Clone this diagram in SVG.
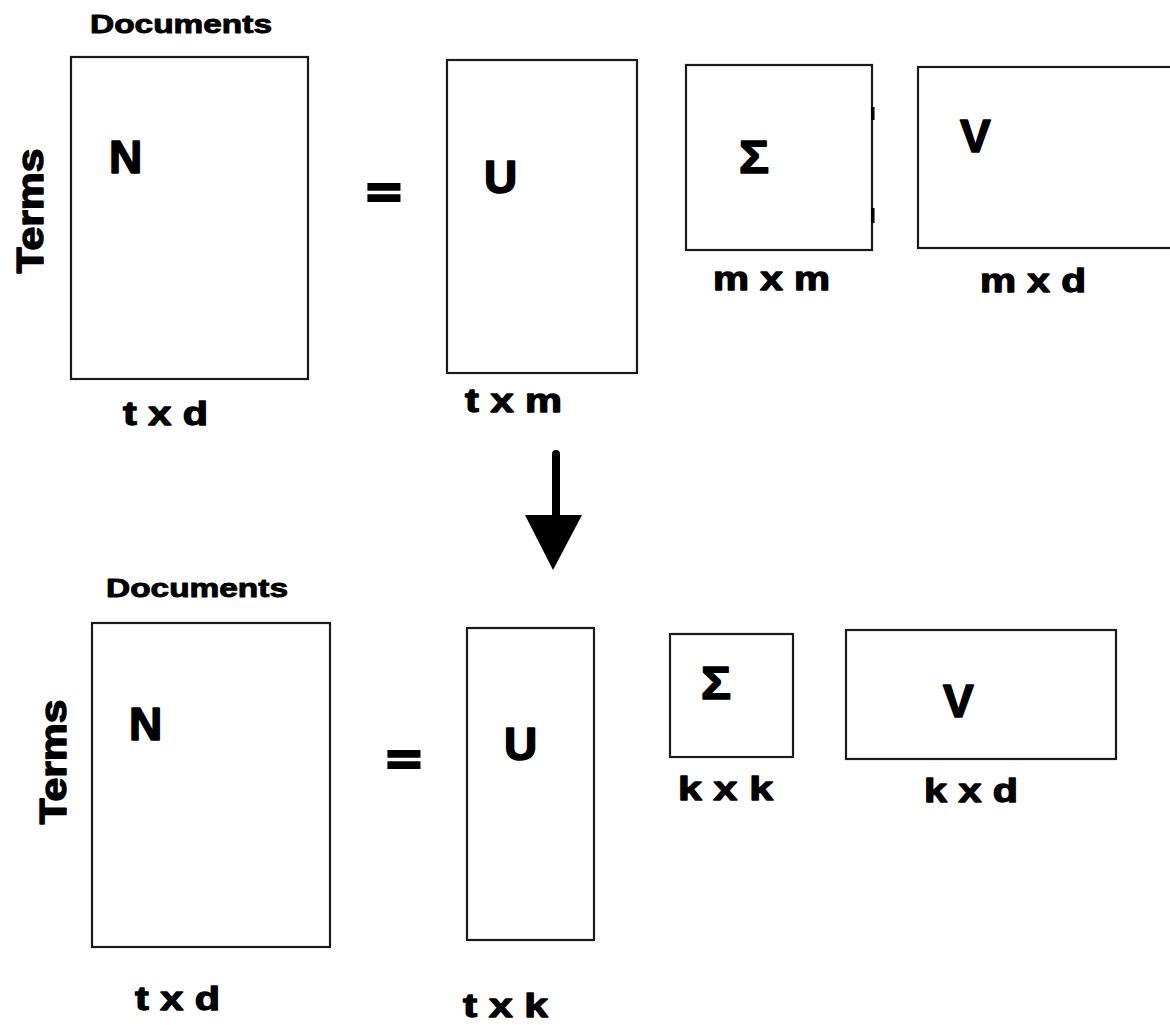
<svg xmlns="http://www.w3.org/2000/svg" width="1170" height="1025" viewBox="0 0 1170 1025">
<style>
.box{fill:#fff;stroke:#1a1a1a;stroke-width:2.2}
.t{font-family:"Liberation Sans",Arial,sans-serif;font-weight:bold;fill:#000;stroke:#000;stroke-linejoin:round}
.big{font-size:46px;stroke-width:1.6}
.lbl{font-size:34px;stroke-width:1.3}
.doc{font-size:25px;stroke-width:0.9}
.terms{font-size:36px;stroke-width:1.4}
.eq{font-family:"DejaVu Sans","Liberation Sans",sans-serif;font-weight:bold;font-size:50px;fill:#000;stroke:#000;stroke-width:1.8}
</style>
<rect width="1170" height="1025" fill="#fff"/>
<g id="top-N">
<text class="t doc" x="90" y="33" textLength="182" lengthAdjust="spacingAndGlyphs">Documents</text>
<text class="t terms" transform="translate(43,211) rotate(-90)" text-anchor="middle" textLength="125" lengthAdjust="spacingAndGlyphs">Terms</text>
<rect class="box" x="71" y="57" width="237" height="322"/>
<text class="t big" x="109" y="173">N</text>
<text class="t lbl" x="123" y="425" textLength="85" lengthAdjust="spacingAndGlyphs">t x d</text>
</g>
<g id="top-eq"><text class="eq" x="384" y="208" text-anchor="middle">=</text></g>
<g id="top-U">
<rect class="box" x="447" y="60" width="190" height="313"/>
<text class="t big" x="484" y="193">U</text>
<text class="t lbl" x="465" y="412" textLength="97" lengthAdjust="spacingAndGlyphs">t x m</text>
</g>
<g id="top-S">
<rect class="box" x="686" y="65" width="186" height="185"/>
<rect x="871" y="107" width="3.5" height="13" fill="#000"/>
<rect x="871" y="208" width="3.5" height="15" fill="#000"/>
<text class="t big" x="739" y="173" textLength="30" lengthAdjust="spacingAndGlyphs">Σ</text>
<text class="t lbl" x="713" y="290" textLength="117" lengthAdjust="spacingAndGlyphs">m x m</text>
</g>
<g id="top-V">
<rect class="box" x="918" y="67" width="270" height="181"/>
<text class="t big" x="960" y="152">V</text>
<text class="t lbl" x="980" y="292" textLength="106" lengthAdjust="spacingAndGlyphs">m x d</text>
</g>
<g id="connectors">
<line x1="556" y1="454" x2="556" y2="520" stroke="#000" stroke-width="8" stroke-linecap="round"/>
<polygon points="525,515 582,515 553,570" fill="#000"/>
</g>
<g id="bot-N">
<text class="t doc" x="106" y="597" textLength="182" lengthAdjust="spacingAndGlyphs">Documents</text>
<text class="t terms" transform="translate(66,762) rotate(-90)" text-anchor="middle" textLength="125" lengthAdjust="spacingAndGlyphs">Terms</text>
<rect class="box" x="92" y="623" width="238" height="324"/>
<text class="t big" x="129" y="740">N</text>
<text class="t lbl" x="135" y="1010" textLength="85" lengthAdjust="spacingAndGlyphs">t x d</text>
</g>
<g id="bot-eq"><text class="eq" x="404" y="775" text-anchor="middle">=</text></g>
<g id="bot-U">
<rect class="box" x="467" y="628" width="127" height="312"/>
<text class="t big" x="504" y="760">U</text>
<text class="t lbl" x="463" y="1017" textLength="85" lengthAdjust="spacingAndGlyphs">t x k</text>
</g>
<g id="bot-S">
<rect class="box" x="670" y="634" width="123" height="123"/>
<text class="t big" x="701" y="699" textLength="30" lengthAdjust="spacingAndGlyphs">Σ</text>
<text class="t lbl" x="678" y="800" textLength="95" lengthAdjust="spacingAndGlyphs">k x k</text>
</g>
<g id="bot-V">
<rect class="box" x="846" y="630" width="270" height="129"/>
<text class="t big" x="943" y="717">V</text>
<text class="t lbl" x="924" y="802" textLength="94" lengthAdjust="spacingAndGlyphs">k x d</text>
</g>
</svg>
